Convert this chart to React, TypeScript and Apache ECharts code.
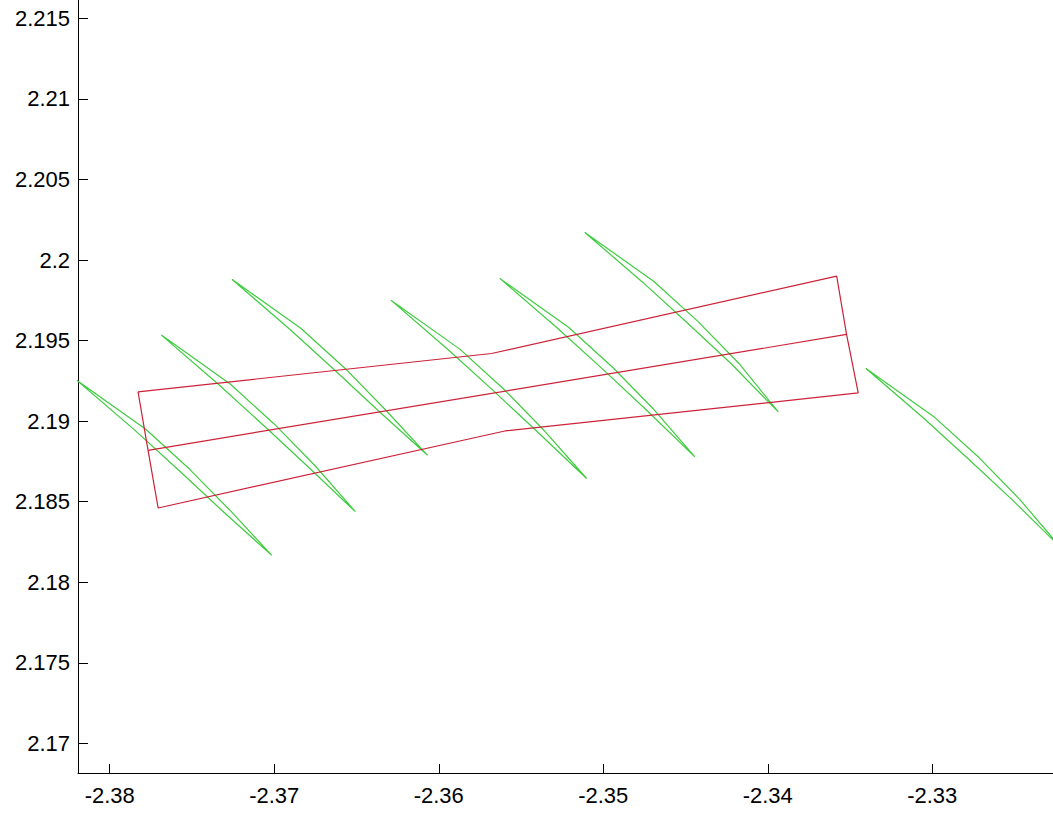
import React, { useEffect, useRef } from "react";
import * as echarts from "echarts";

// Tick values
const xTicks = [-2.38, -2.37, -2.36, -2.35, -2.34, -2.33];
const yTicks = [2.17, 2.175, 2.18, 2.185, 2.19, 2.195, 2.2, 2.205, 2.21, 2.215];

// Red outline (closed quadrilateral with kinks) and its middle line
const redOutline: number[][] = [
  [-2.37828, 2.19182],
  [-2.35679, 2.1942],
  [-2.33581, 2.199],
  [-2.33521, 2.19538],
  [-2.3345, 2.19175],
  [-2.35598, 2.18939],
  [-2.37706, 2.18461],
  [-2.37767, 2.18819],
  [-2.37828, 2.19182],
];
const redMiddle: number[][] = [
  [-2.37767, 2.18819],
  [-2.33521, 2.19538],
];

// Green thin closed curves (lenses)
const green1: number[][] = [
  [-2.38201, 2.19254], [-2.37781, 2.1895], [-2.37514, 2.18701], [-2.37264, 2.18441], [-2.37015, 2.18167],
  [-2.37313, 2.18441], [-2.37574, 2.18689], [-2.37848, 2.18944], [-2.38201, 2.19254],
];
const green2: number[][] = [
  [-2.37686, 2.19534], [-2.37266, 2.19229], [-2.36999, 2.18981], [-2.36749, 2.1872], [-2.36507, 2.18438],
  [-2.36798, 2.1872], [-2.37059, 2.18968], [-2.37333, 2.19223], [-2.37686, 2.19534],
];
const green3: number[][] = [
  [-2.37256, 2.19879], [-2.36837, 2.19575], [-2.36569, 2.19327], [-2.3632, 2.19066], [-2.36068, 2.18788],
  [-2.36369, 2.19066], [-2.3663, 2.19314], [-2.36904, 2.19569], [-2.37256, 2.19879],
];
const green4: number[][] = [
  [-2.36291, 2.19751], [-2.35872, 2.19447], [-2.35604, 2.19198], [-2.35355, 2.18937], [-2.35101, 2.18644],
  [-2.35404, 2.18937], [-2.35665, 2.19186], [-2.35939, 2.1944], [-2.36291, 2.19751],
];
const green5: number[][] = [
  [-2.35629, 2.19886], [-2.35209, 2.19581], [-2.34942, 2.19333], [-2.34692, 2.19072], [-2.34443, 2.18778],
  [-2.34741, 2.19072], [-2.35002, 2.19321], [-2.35276, 2.19575], [-2.35629, 2.19886],
];
const green6: number[][] = [
  [-2.35112, 2.20171], [-2.34692, 2.19867], [-2.34425, 2.19619], [-2.34175, 2.19358], [-2.33936, 2.19057],
  [-2.34224, 2.19358], [-2.34485, 2.19606], [-2.34759, 2.19861], [-2.35112, 2.20171],
];
const green7: number[][] = [
  [-2.33403, 2.19327], [-2.32984, 2.19022], [-2.32716, 2.18774], [-2.32467, 2.18513], [-2.32217, 2.18213],
  [-2.32515, 2.18513], [-2.32777, 2.18762], [-2.3305, 2.19016], [-2.33403, 2.19327],
];
const greens = [green1, green2, green3, green4, green5, green6, green7];

const RED = "#cc2238";
const GREEN = "#3fcc3f";

const fmt = (v: number) => String(parseFloat(Number(v).toFixed(4)));

export default function App() {
  const ref = useRef<HTMLDivElement>(null);
  useEffect(() => {
    if (!ref.current) return;
    const chart = echarts.init(ref.current, undefined, { renderer: "svg" });
    const lineSeries = (data: number[][], color: string) => ({
      type: "line",
      data,
      showSymbol: false,
      symbol: "none",
      clip: true,
      silent: true,
      lineStyle: { color, width: 1.2 },
    });
    chart.setOption({
      animation: false,
      backgroundColor: "#ffffff",
      grid: { left: 78, top: 0, right: 0, bottom: 41, containLabel: false, outerBoundsMode: "none" },
      xAxis: {
        type: "value",
        min: -2.38193,
        max: -2.32266,
        axisLine: { show: true, onZero: false, lineStyle: { color: "#000", width: 1 } },
        axisTick: { show: true, inside: true, length: 9, customValues: xTicks, lineStyle: { color: "#000" } },
        axisLabel: {
          customValues: xTicks,
          formatter: fmt,
          color: "#000",
          fontSize: 22,
          fontFamily: "Liberation Sans",
          margin: 11,
        },
        splitLine: { show: false },
      },
      yAxis: {
        type: "value",
        min: 2.16816,
        max: 2.21614,
        axisLine: { show: true, onZero: false, lineStyle: { color: "#000", width: 1 } },
        axisTick: { show: true, inside: true, length: 10, customValues: yTicks, lineStyle: { color: "#000" } },
        axisLabel: {
          customValues: yTicks,
          formatter: fmt,
          color: "#000",
          fontSize: 22,
          fontFamily: "Liberation Sans",
          margin: 8,
        },
        splitLine: { show: false },
      },
      series: [
        ...greens.map((g) => lineSeries(g, GREEN)),
        lineSeries(redOutline, RED),
        lineSeries(redMiddle, RED),
      ],
    });
    return () => chart.dispose();
  }, []);
  return (
    <div
      ref={ref}
      style={{ position: "absolute", left: 0, top: 0, width: 1053, height: 814, background: "#fff" }}
    />
  );
}
